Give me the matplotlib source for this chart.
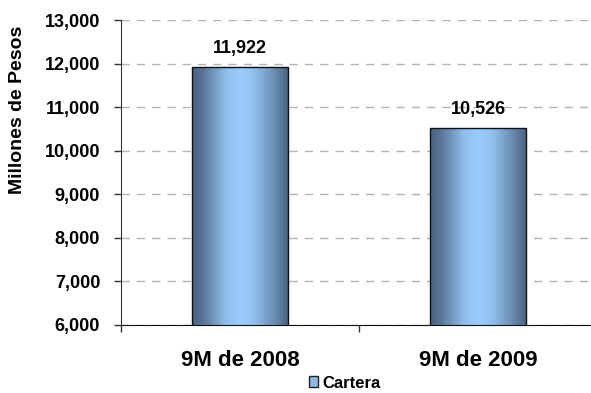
import numpy as np
import matplotlib.pyplot as plt
from matplotlib.colors import LinearSegmentedColormap
from matplotlib.ticker import StrMethodFormatter
from matplotlib.patches import Patch

plt.rcParams['font.family'] = ['Liberation Sans', 'DejaVu Sans']
plt.rcParams['font.weight'] = 'bold'

# ---- datos ----
periodos = ["9M de 2008", "9M de 2009"]
cartera = [11922, 10526]
y_ticks = [6000, 7000, 8000, 9000, 10000, 11000, 12000, 13000]
serie = "Cartera"

fig = plt.figure(figsize=(5.91, 3.93), dpi=100)
ax = fig.add_axes([121 / 591, 68 / 393, 476 / 591, 305 / 393])

x = np.arange(len(periodos))
barras = ax.bar(x, cartera, width=0.40, bottom=0, color='none',
                edgecolor='#111111', linewidth=1.0, zorder=3)

# degradado horizontal tipo cilindro
cmap = LinearSegmentedColormap.from_list(
    "cil", [(0.0, '#4a6180'), (0.12, '#5a7898'), (0.35, '#8fbdea'),
            (0.5, '#9acdfd'), (0.65, '#92c0ee'), (0.85, '#6d8fb4'),
            (1.0, '#4b6583')])
grad = np.linspace(0, 1, 256).reshape(1, -1)
for b in barras:
    x0, w, h = b.get_x(), b.get_width(), b.get_height()
    im = ax.imshow(grad, cmap=cmap, aspect='auto', zorder=2,
                   extent=[x0, x0 + w, 6000, h], interpolation='bicubic')
    im.set_clip_path(b)

for xi, v in zip(x, cartera):
    ax.annotate(f"{v:,}", (xi, v), xytext=(0, 7), textcoords='offset points',
                ha='center', va='bottom', fontsize=13, fontweight='bold')

ax.set_xlim(-0.5, 1.5)
ax.set_ylim(6000, 13000)
ax.set_yticks(y_ticks)
ax.yaxis.set_major_formatter(StrMethodFormatter('{x:,.0f}'))
ax.tick_params(axis='y', direction='out', length=5, width=1, labelsize=13,
               pad=10, color='#333333')

# marcas entre categorias, etiquetas centradas
ax.set_xticks([-0.5, 0.5, 1.5])
ax.set_xticklabels([])
ax.set_xticks(x, minor=True)
ax.set_xticklabels(periodos, minor=True, fontsize=16, fontweight='bold')
ax.tick_params(axis='x', which='major', direction='out', length=5, width=1,
               color='#333333')
ax.tick_params(axis='x', which='minor', length=0, pad=18)

ax.grid(axis='y', color='#b4b4b4', linestyle=(0, (6, 5)), linewidth=1,
        zorder=1)
ax.set_axisbelow(True)
for s in ['top', 'right']:
    ax.spines[s].set_visible(False)
ax.spines['left'].set_color('#333333')
ax.spines['bottom'].set_color('#111111')

ax.set_ylabel("Millones de Pesos", fontsize=14, fontweight='bold')
ax.yaxis.label.set_va('center')
ax.yaxis.set_label_coords((18 - 121) / 476, (325 - 110) / 305)

fig.legend(handles=[Patch(facecolor='#8cb8e6', edgecolor='#222222',
                          linewidth=1.0, label=serie)],
           loc='center left', bbox_to_anchor=(309 / 591, 10 / 393),
           frameon=False, borderpad=0, borderaxespad=0,
           handlelength=0.55, handleheight=0.6, handletextpad=0.25,
           prop={'weight': 'bold', 'size': 12})

fig.savefig("out.png", dpi=100)
